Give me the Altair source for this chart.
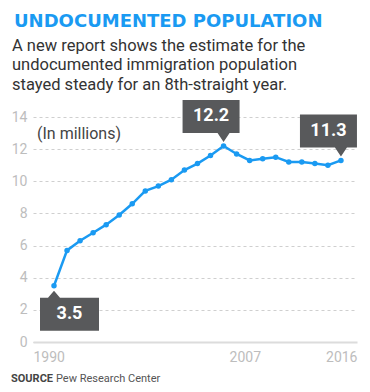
import altair as alt
import pandas as pd

# ---- data ----
YEARS = [1990, 1995, 1996, 1997, 1998, 1999, 2000, 2001, 2002, 2003, 2004, 2005,
         2006, 2007, 2008, 2009, 2010, 2011, 2012, 2013, 2014, 2015, 2016]
VALUES = [3.5, 5.7, 6.3, 6.8, 7.3, 7.9, 8.6, 9.4, 9.7, 10.1, 10.7, 11.1,
          11.6, 12.2, 11.7, 11.3, 11.4, 11.5, 11.2, 11.2, 11.1, 11.0, 11.3]
CALLOUT_ABOVE = [2007, 2016]
CALLOUT_BELOW = [1990]
XTICK_YEARS = [1990, 2007, 2016]
YTICKS = [0, 2, 4, 6, 8, 10, 12, 14]

TITLE = "UNDOCUMENTED POPULATION"
SUBTITLE = ["A new report shows the estimate for the",
            "undocumented immigration population",
            "stayed steady for an 8th-straight year."]
UNIT = "(In millions)"
SOURCE_BOLD = "SOURCE"
SOURCE_TEXT = "Pew Research Center"

BLUE = "#1a9af2"
BOX = "#58595b"
FONT = "Roboto"

df = pd.DataFrame({"year": YEARS, "value": VALUES, "i": list(range(len(YEARS)))})
one = pd.DataFrame({"k": [0]})

W, H = 324, 225
DMIN, DMAX = -1.61, 23.23
span = XTICK_YEARS[-1] - XTICK_YEARS[0]
xtick_vals = [DMIN + (y - XTICK_YEARS[0]) / span * (DMAX - DMIN) for y in XTICK_YEARS]

xscale = alt.Scale(domain=[DMIN, DMAX], nice=False, zero=False)
yscale = alt.Scale(domain=[0, 14], nice=False)

xenc = alt.X("i:Q", scale=xscale, axis=alt.Axis(
    values=xtick_vals, title=None, grid=False, ticks=False,
    labelExpr=f"round({XTICK_YEARS[0]} + (datum.value - ({DMIN})) * {span / (DMAX - DMIN)})",
    labelFlush=True, labelOverlap=False, labelPadding=8,
    labelFont=FONT, labelFontSize=14, labelColor="#bdbdbd",
    domain=True, domainColor="#dcdcdc", domainWidth=2))
yenc = alt.Y("value:Q", scale=yscale, axis=alt.Axis(
    values=YTICKS, title=None, ticks=False, domain=False,
    grid=True, gridDash=[3, 3], gridColor="#cfcfcf", gridWidth=1,
    labelPadding=6, labelFont=FONT, labelFontSize=14, labelColor="#bdbdbd"))

base = alt.Chart(df).encode(x=xenc, y=yenc)

line = base.mark_line(color=BLUE, strokeWidth=2.5)
dots = base.mark_point(filled=True, color=BLUE, size=30, opacity=1)

above_path = "M-41,-46 L16,-46 L16,-13 L6,-13 L0,-4 L-6,-13 L-41,-13 Z"
below_path = "M-14,12 L-6,12 L0,5 L6,12 L45,12 L45,45 L-14,45 Z"

above = base.transform_filter(alt.FieldOneOfPredicate(field="year", oneOf=CALLOUT_ABOVE))
below = base.transform_filter(alt.FieldOneOfPredicate(field="year", oneOf=CALLOUT_BELOW))

box_above = above.mark_point(shape=above_path, size=4, filled=True, color=BOX, opacity=1)
box_below = below.mark_point(shape=below_path, size=4, filled=True, color=BOX, opacity=1)

txt_above = above.transform_calculate(label="format(datum.value, '.1f')").mark_text(
    dx=-12.5, dy=-29.5, baseline="middle", align="center", font=FONT,
    fontWeight="bold", fontSize=18, color="white").encode(text="label:N")
txt_below = below.transform_calculate(label="format(datum.value, '.1f')").mark_text(
    dx=15.5, dy=28.5, baseline="middle", align="center", font=FONT,
    fontWeight="bold", fontSize=18, color="white").encode(text="label:N")

title = alt.Chart(one).mark_text(
    align="left", baseline="alphabetic", font="DejaVu Sans", fontWeight="bold",
    fontSize=18, color=BLUE, text=TITLE).encode(x=alt.value(-19), y=alt.value(-90))
subtitle = alt.Chart(one).mark_text(
    align="left", baseline="alphabetic", font=FONT, fontSize=16.5, lineHeight=19.5,
    color="#333333").encode(x=alt.value(-21), y=alt.value(-66.5), text=alt.value(SUBTITLE))
unit = alt.Chart(one).mark_text(
    align="left", baseline="middle", font=FONT, fontSize=16, color="#444444",
    text=UNIT).encode(x=alt.value(4), y=alt.value(17))
src1 = alt.Chart(one).mark_text(
    align="left", baseline="alphabetic", font=FONT, fontWeight="bold", fontSize=11,
    color="#444444", text=SOURCE_BOLD).encode(x=alt.value(-22), y=alt.value(265))
src2 = alt.Chart(one).mark_text(
    align="left", baseline="alphabetic", font=FONT, fontSize=11,
    color="#555555", text=SOURCE_TEXT).encode(x=alt.value(23), y=alt.value(265))

chart = alt.layer(
    line, dots, box_above, box_below, txt_above, txt_below,
    title, subtitle, unit, src1, src2
).properties(
    width=W, height=H,
    autosize=alt.AutoSizeParams(type="none"),
    padding={"left": 25, "top": 109, "right": 5, "bottom": 42},
).configure_view(stroke=None)

chart.save("out.html", embed_options={"renderer": "svg", "actions": False})
